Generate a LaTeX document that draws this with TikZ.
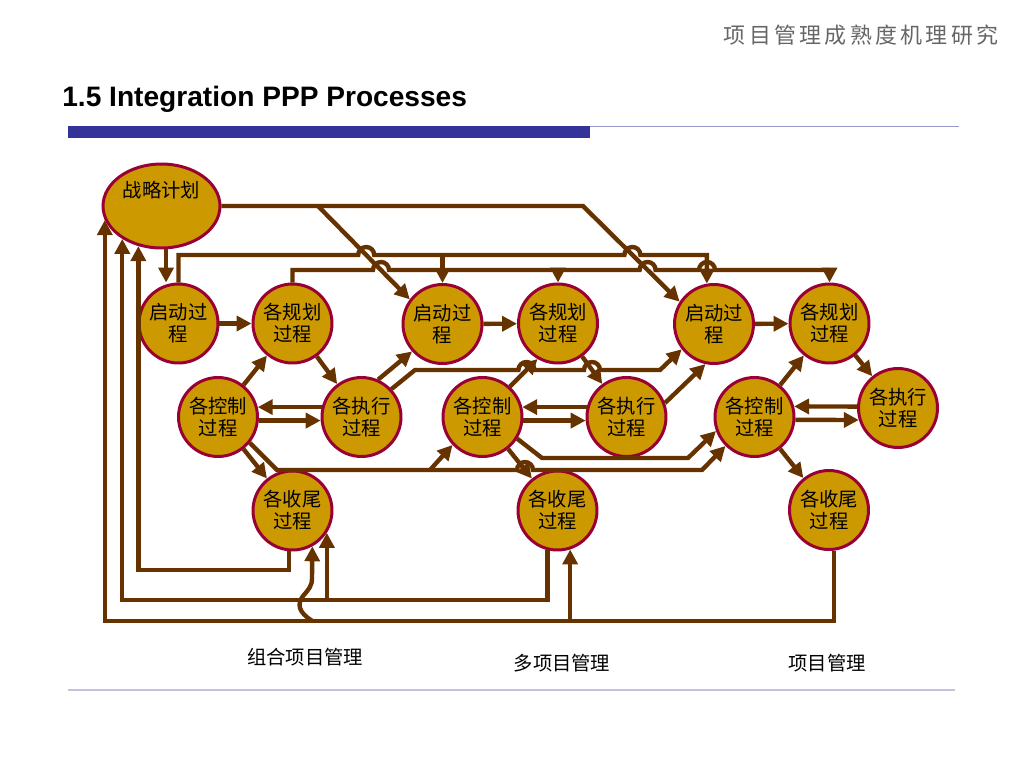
\documentclass[tikz,border=0pt]{standalone}
\usepackage{fontspec}
\setmainfont{Liberation Sans}
\newfontfamily\cjk{Noto Sans CJK SC}
\newfontfamily\cjkwide[LetterSpace=15]{Noto Sans CJK SC}
\usetikzlibrary{arrows.meta,shapes.geometric}
\definecolor{gold}{HTML}{CC9900}
\definecolor{rim}{HTML}{990033}
\definecolor{brownline}{HTML}{663300}
\definecolor{barblue}{HTML}{333399}
\definecolor{rulegrey}{HTML}{9999CC}
\begin{document}
\begin{tikzpicture}
  [
  x=0.02cm, y=-0.02cm,
  process/.style={circle,draw=rim,fill=gold,line width=1.7pt,inner sep=0pt,minimum size=1.58cm,align=center,font=\cjk\fontsize{11}{12.5}\selectfont},
  strategy/.style={ellipse,draw=rim,fill=gold,line width=1.7pt,minimum width=2.34cm,minimum height=1.68cm},
  flow/.style={draw=brownline,line width=2.5pt},
  flowarrow/.style={flow,-{Triangle[length=8.5pt,width=8.5pt]}},
  caption/.style={font=\cjk\fontsize{11}{13}\selectfont}
  ]
  \useasboundingbox (0,0) rectangle (1024,768);
  % page header
  \node (header) at (861,35) [text=black!60,font=\cjkwide\fontsize{12.5}{15}\selectfont] {项目管理成熟度机理研究};
  \node (title) at (62,106) [anchor=base west,inner sep=0pt,font=\bfseries\fontsize{16}{18}\selectfont] {1.5 Integration PPP Processes};
  \fill[barblue] (68,126) rectangle (590,138);
  \draw[rulegrey,line width=0.6pt] (590,126.5) -- (959,126.5);
  \draw[rulegrey!60,line width=0.6pt] (68,690) -- (955,690);
  % strategic plan
  \node (strat) at (161.5,206) [strategy] {};
  \node (strattext) at (161.5,190) [caption] {战略计划};
  % portfolio
  \node (start1) at (178.5,323.5) [process] {启动过\\程};
  \node (plan1) at (292.5,323.5) [process] {各规划\\过程};
  \node (ctrl1) at (218,417) [process] {各控制\\过程};
  \node (exec1) at (361.5,417) [process] {各执行\\过程};
  \node (close1) at (292.5,510.5) [process] {各收尾\\过程};
  % multi project
  \node (start2) at (442.5,324) [process] {启动过\\程};
  \node (plan2) at (558,323.5) [process] {各规划\\过程};
  \node (ctrl2) at (482.5,417) [process] {各控制\\过程};
  \node (exec2) at (626.5,417) [process] {各执行\\过程};
  \node (close2) at (557.5,510.5) [process] {各收尾\\过程};
  % single project
  \node (start3) at (714,324) [process] {启动过\\程};
  \node (plan3) at (829.5,323.5) [process] {各规划\\过程};
  \node (ctrl3) at (754.5,417) [process] {各控制\\过程};
  \node (exec3) at (898,408) [process] {各执行\\过程};
  \node (close3) at (829,510) [process] {各收尾\\过程};
  \node (portfolio) at (305,657) [caption] {组合项目管理};
  \node (multi) at (562,663) [caption] {多项目管理};
  \node (single) at (827,663) [caption] {项目管理};
  % routing points
  \coordinate (fork1) at (318,206);
  \coordinate (fork2) at (583,206);
  \coordinate (row1) at (0,255);
  \coordinate (row2) at (0,270);
  \coordinate (branch) at (430,470);
  \coordinate (row3) at (0,570);
  \coordinate (row4) at (0,600);
  \coordinate (row5) at (0,621);
  % from the strategic plan
  \draw [flowarrow] (strat.-84) -- (strat.-84 |- start1.north);
  \draw [flowarrow] (strat.east) -- (fork2) -- (start3.147);
  \draw [flowarrow] (fork1) -- (start2.143);
  % initiating and planning links
  \draw [flowarrow] (start1.north) |- (358.2,255) arc[start angle=180,end angle=360,radius=8]
    -- (624.4,255) arc[start angle=180,end angle=360,radius=8] -- (start3.100 |- row1) -- (start3.100);
  \draw [flowarrow] (start2.north |- row1) -- (start2.north);
  \draw [flowarrow] (plan1.north) |- (373,270) arc[start angle=180,end angle=360,radius=8]
    -- (639.6,270) arc[start angle=180,end angle=360,radius=8]
    -- (699,270) arc[start angle=180,end angle=360,radius=8] -- (plan3.north |- row2) -- (plan3.north);
  \draw [flowarrow] (plan2.north |- row2) -- (plan2.north);
  \draw [flowarrow] (start1) -- (plan1);
  \draw [flowarrow] (start2) -- (plan2);
  \draw [flowarrow] (start3) -- (plan3);
  % portfolio cycle
  \draw [flowarrow] (ctrl1) -- (plan1);
  \draw [flowarrow] (plan1) -- (exec1);
  \draw [flowarrow] (exec1.166) -- (ctrl1.14);
  \draw [flowarrow] (ctrl1.-5) -- (exec1.185);
  \draw [flowarrow] (ctrl1) -- (close1);
  \draw [flowarrow] (exec1.66) -- (start2.222);
  \draw [flowarrow] (exec1.43) -- (415,370) -- (518.4,370) arc[start angle=180,end angle=360,radius=8]
    -- (584,370) arc[start angle=180,end angle=360,radius=8] -- (660,370) -- (start3.218);
  \draw [flowarrow] (ctrl1.-39) -- (277,470) -- (517,470) arc[start angle=180,end angle=360,radius=8]
    -- (702,470) -- (ctrl3.225);
  \draw [flowarrow] (branch) -- (ctrl2.223);
  % multi project cycle
  \draw [flowarrow] (ctrl2.48) -- (plan2.240);
  \draw [flowarrow] (plan2) -- (exec2);
  \draw [flowarrow] (exec2.166) -- (ctrl2.14);
  \draw [flowarrow] (ctrl2.-5) -- (exec2.185);
  \draw [flowarrow] (ctrl2) -- (close2);
  \draw [flowarrow] (exec2.20) -- (start3.258);
  \draw [flowarrow] (ctrl2.-32) -- (542,458) -- (688,458) -- (ctrl3.200);
  % single project cycle
  \draw [flowarrow] (ctrl3) -- (plan3);
  \draw [flowarrow] (plan3) -- (exec3);
  \draw [flowarrow] (exec3.178) -- (ctrl3.15);
  \draw [flowarrow] (ctrl3.-4) -- (exec3.197);
  \draw [flowarrow] (ctrl3) -- (close3);
  % feedback from closing
  \draw [flowarrow] (close1.265) -- (close1.265 |- row3) -| (strat.-120);
  \draw [flowarrow] (close2.256) -- (close2.256 |- row4) -| (strat.-140);
  \draw [flowarrow] (close1.-33 |- row4) -- (close1.-33);
  \draw [flowarrow] (close3.-83) -- (close3.-83 |- row5) -| (strat.-166);
  \draw [flowarrow] (close2.-72 |- row5) -- (close2.-72);
  \draw [flowarrow] (close1.-61 |- row5) .. controls (298,612) and (297,604) .. (303,596)
    .. controls (309,589) and (312,586) .. (312,578) -- (close1.-61);
\end{tikzpicture}
\end{document}
